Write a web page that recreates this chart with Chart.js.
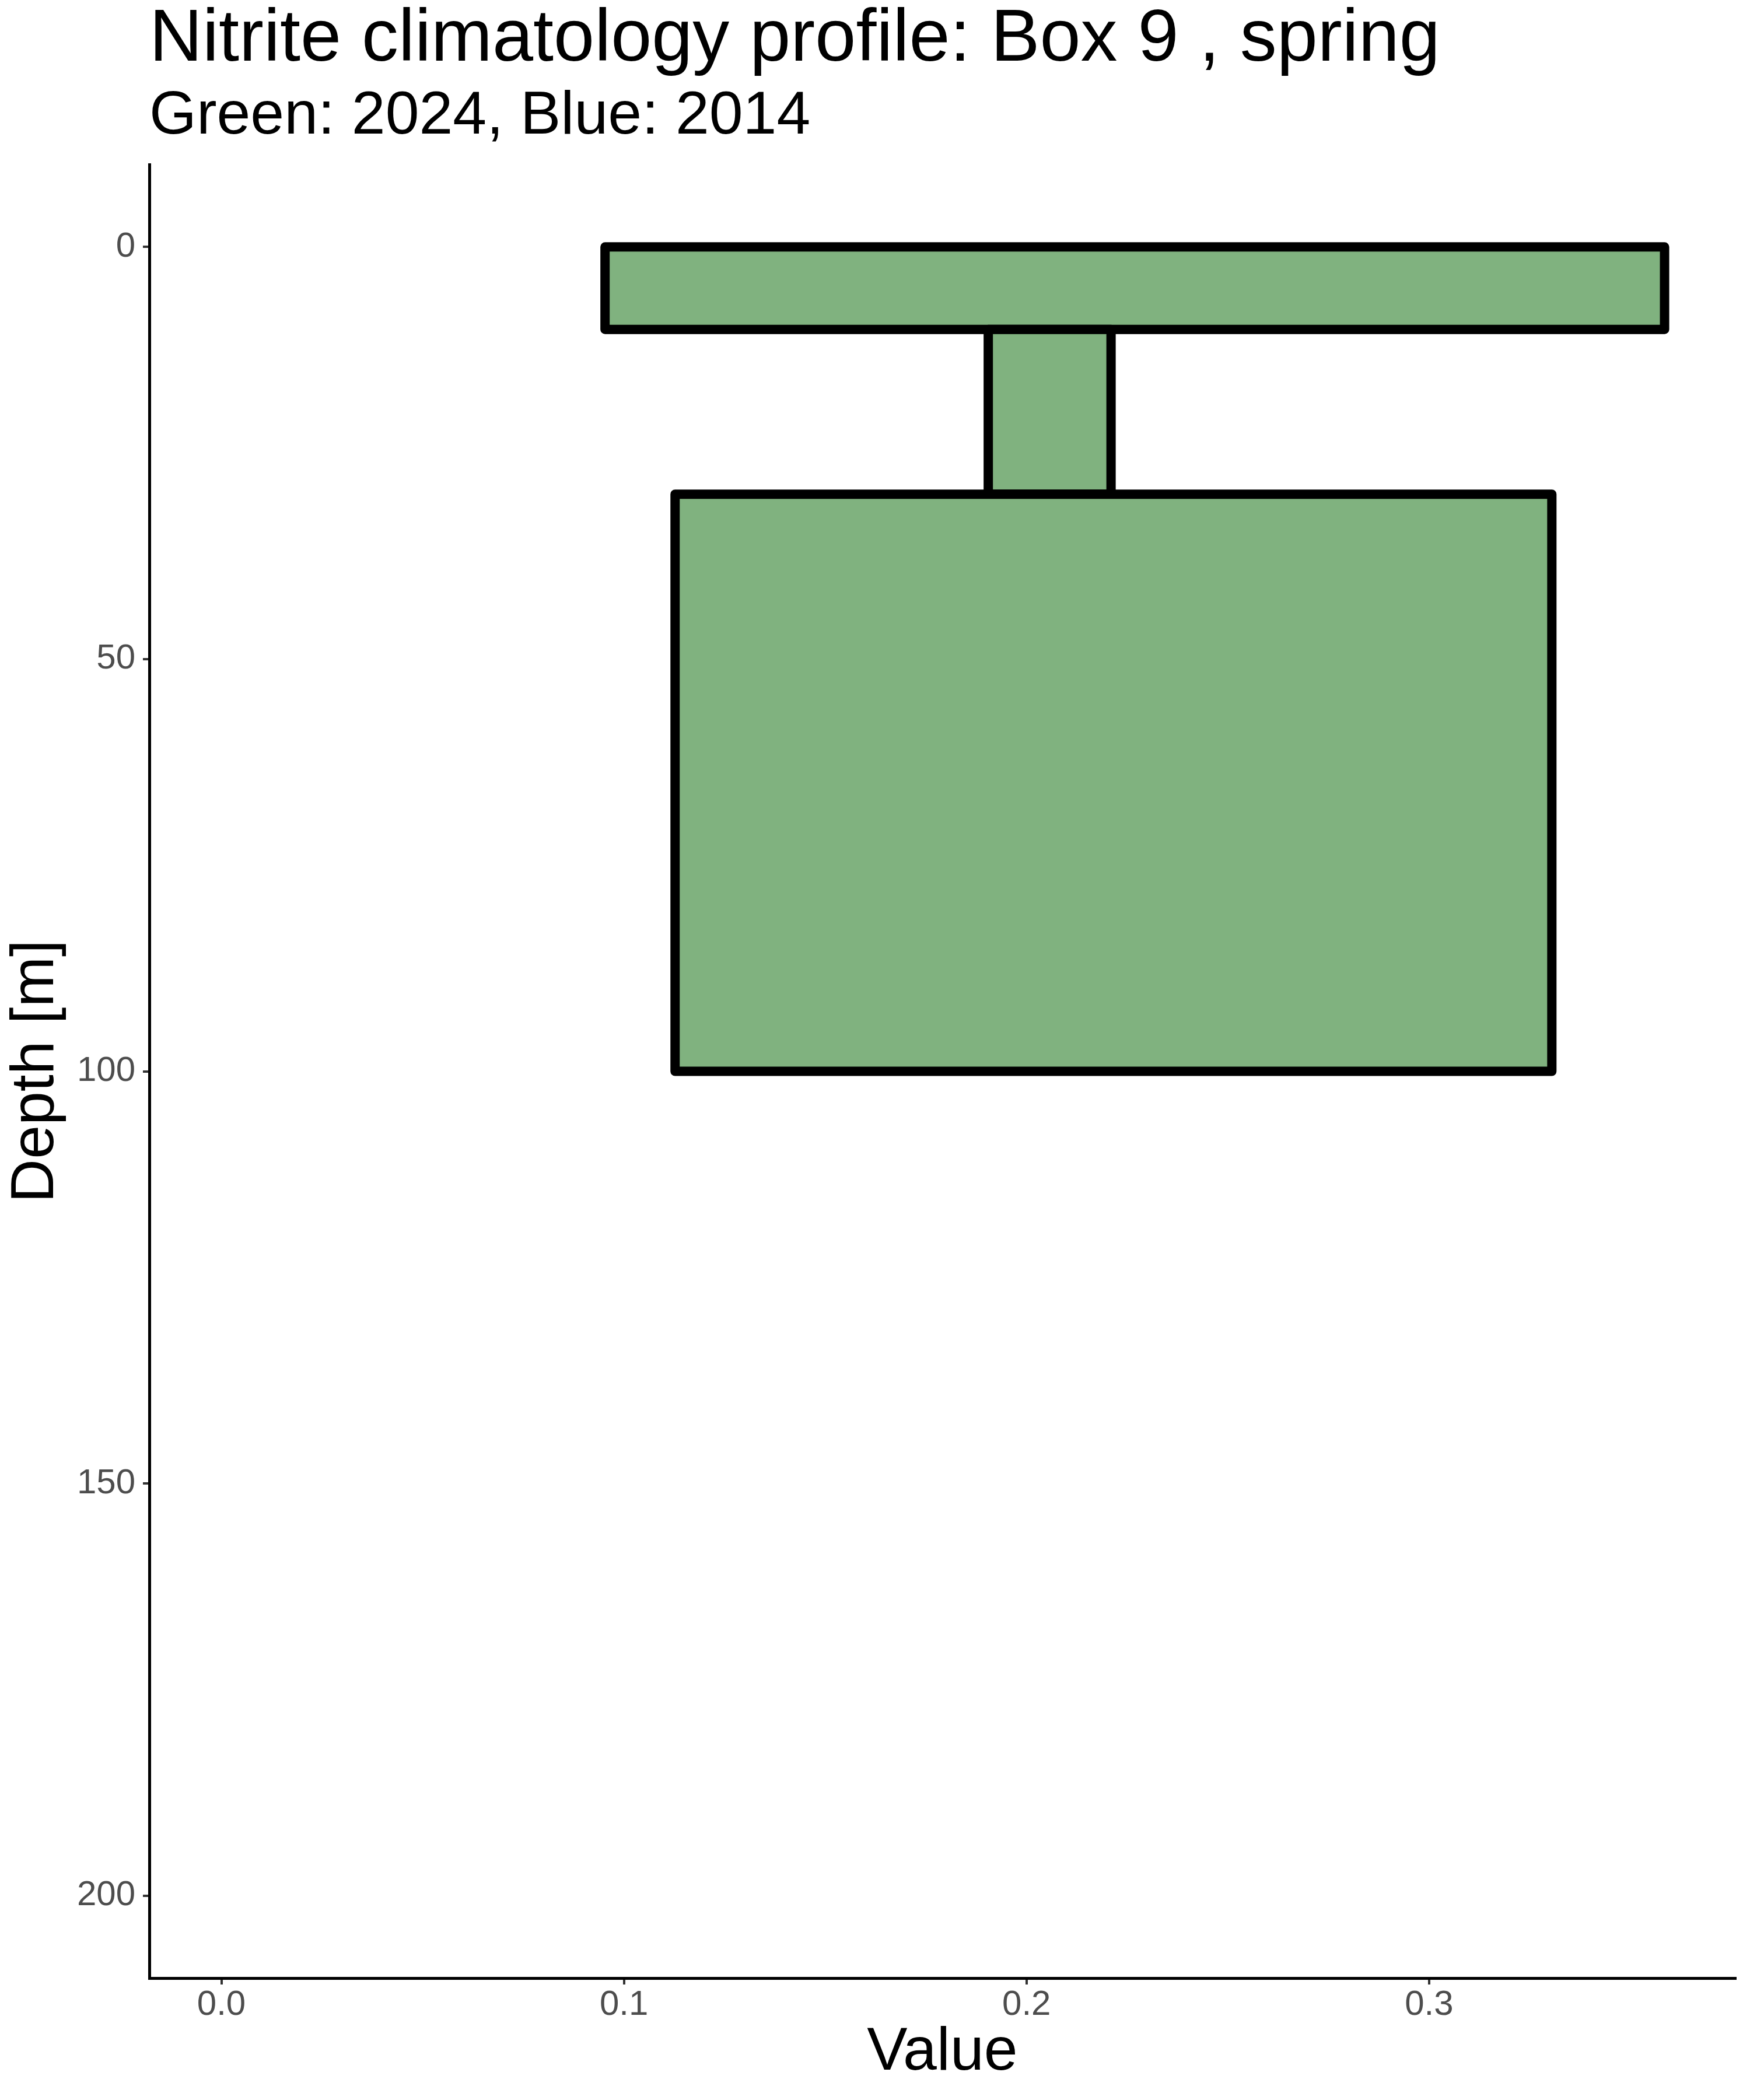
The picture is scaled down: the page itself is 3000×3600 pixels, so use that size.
<!DOCTYPE html>
<html>
<head>
<meta charset="utf-8">
<script src="https://cdn.jsdelivr.net/npm/chart.js@4.4.1/dist/chart.umd.min.js"></script>
<style>
  html, body { margin: 0; padding: 0; background: #ffffff; }
  #wrap { width: 3000px; height: 3600px; }
</style>
</head>
<body>
<div id="wrap"><canvas id="c" width="3000" height="3600"></canvas></div>
<script>
// ---- data ----
const layerNames = ["0-10 m", "10-30 m", "30-100 m"];
const depthTop = [0, 10, 30];
const depthBottom = [10, 30, 100];
const valueMin = [0.0953, 0.1905, 0.1127];
const valueMax = [0.3585, 0.2210, 0.3305];
const xTicks = [0.0, 0.1, 0.2, 0.3];
const yTicks = [0, 50, 100, 150, 200];
const xLimits = [-0.0179, 0.3761];
const yLimits = [-10, 210];
const titleText = "Nitrite climatology profile: Box 9 , spring";
const subtitleText = "Green: 2024, Blue: 2014";
const xTitle = "Value";
const yTitle = "Depth [m]";

const FONT = "'Liberation Sans', Arial, Helvetica, sans-serif";

const datasets = layerNames.map((name, i) => ({
  label: name,
  data: [
    { x: valueMin[i], y: depthTop[i] },
    { x: valueMax[i], y: depthTop[i] },
    { x: valueMax[i], y: depthBottom[i] },
    { x: valueMin[i], y: depthBottom[i] },
    { x: valueMin[i], y: depthTop[i] }
  ],
  showLine: true,
  fill: 'shape',
  backgroundColor: '#80B27F',
  borderColor: '#000000',
  borderWidth: 16,
  borderJoinStyle: 'round',
  borderCapStyle: 'round',
  pointRadius: 0,
  pointHoverRadius: 0,
  tension: 0,
  order: layerNames.length - i
}));

new Chart(document.getElementById('c'), {
  type: 'line',
  data: { datasets },
  options: {
    responsive: false,
    devicePixelRatio: 1,
    animation: false,
    events: [],
    layout: { padding: { left: 0, right: 25, top: 0, bottom: 0 } },
    plugins: {
      legend: { display: false },
      tooltip: { enabled: false },
      title: {
        display: true,
        text: titleText,
        align: 'start',
        fullSize: false,
        color: '#000000',
        font: { family: FONT, size: 126, weight: 'normal', lineHeight: 1 },
        padding: { top: 6, bottom: 0 }
      },
      subtitle: {
        display: true,
        text: subtitleText,
        align: 'start',
        fullSize: false,
        color: '#000000',
        font: { family: FONT, size: 104, weight: 'normal', lineHeight: 1 },
        padding: { top: 16, bottom: 30 }
      }
    },
    scales: {
      x: {
        type: 'linear',
        position: 'bottom',
        min: xLimits[0],
        max: xLimits[1],
        afterBuildTicks: (s) => { s.ticks = xTicks.map(v => ({ value: v })); },
        afterFit: (s) => { s.height = 209; },
        ticks: {
          color: '#4D4D4D',
          font: { family: FONT, size: 60, lineHeight: 1 },
          padding: 5,
          maxRotation: 0,
          autoSkip: false,
          callback: (v) => Number(v).toFixed(1)
        },
        grid: {
          display: true,
          drawOnChartArea: false,
          drawTicks: true,
          tickLength: 11,
          color: '#333333',
          lineWidth: 4
        },
        border: { display: true, color: '#000000', width: 5 },
        title: {
          display: true,
          text: xTitle,
          color: '#000000',
          font: { family: FONT, size: 104, lineHeight: 1 },
          padding: { top: 0, bottom: 29 }
        }
      },
      y: {
        type: 'linear',
        position: 'left',
        reverse: true,
        min: yLimits[0],
        max: yLimits[1],
        afterBuildTicks: (s) => { s.ticks = yTicks.map(v => ({ value: v })); },
        afterFit: (s) => { s.width = 256; },
        ticks: {
          color: '#4D4D4D',
          font: { family: FONT, size: 60, lineHeight: 1 },
          padding: 13,
          autoSkip: false,
          callback: (v) => String(v)
        },
        grid: {
          display: true,
          drawOnChartArea: false,
          drawTicks: true,
          tickLength: 11,
          color: '#333333',
          lineWidth: 4
        },
        border: { display: true, color: '#000000', width: 5 },
        title: {
          display: true,
          text: yTitle,
          color: '#000000',
          font: { family: FONT, size: 104, lineHeight: 1 },
          padding: { top: 10, bottom: 0 }
        }
      }
    }
  }
});
</script>
</body>
</html>
